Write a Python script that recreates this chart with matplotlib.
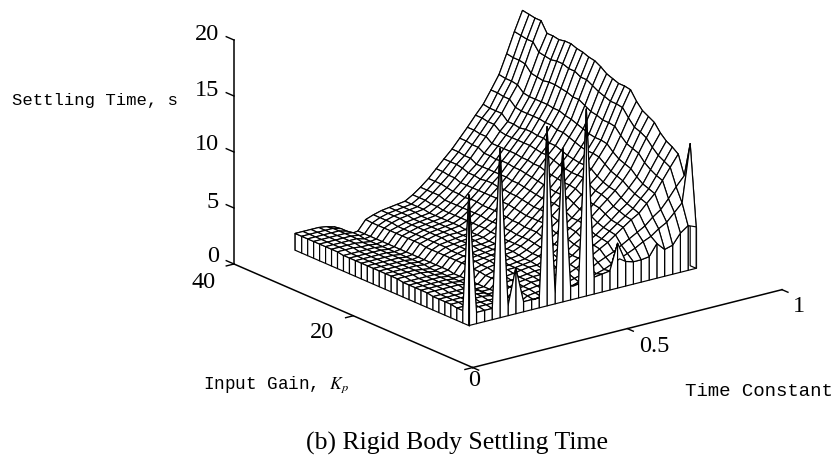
import matplotlib
matplotlib.use('Agg')
import matplotlib.pyplot as plt
import numpy as np
from mpl_toolkits.mplot3d import proj3d

W, H = 838, 458

# grid of the surface: time constant across, input gain along
time_const = [0.19, 0.215, 0.241, 0.266, 0.291, 0.317, 0.342, 0.367, 0.393, 0.418,
              0.443, 0.469, 0.494, 0.519, 0.545, 0.57, 0.595, 0.621, 0.646, 0.671,
              0.697, 0.722, 0.747, 0.773, 0.798, 0.823, 0.849, 0.874, 0.899, 0.925]
input_gain = [10.5, 11.5, 12.5, 13.5, 14.5, 15.5, 16.5, 17.5, 18.5, 19.5,
              20.5, 21.5, 22.5, 23.5, 24.5, 25.5, 26.5, 27.5, 28.5, 29.5,
              30.5, 31.5, 32.5, 33.5, 34.5, 35.5, 36.5, 37.5, 38.5, 39.6]

# settling time, one row per input gain (first row is the front edge)
settling = [
    [11.7, 1.0, 1.0, 1.0, 15.1, 0.9, 4.1, 0.9, 0.9, 0.9, 16.0, 1.0, 13.7, 1.2, 1.4, 16.7, 1.5, 1.6, 1.7, 4.0, 2.2, 2.0, 2.0, 2.1, 3.1, 2.4, 2.6, 3.5, 4.0, 3.7],
    [1.1, 1.1, 1.1, 1.1, 1.1, 1.0, 0.4, 0.2, 0.2, 0.5, 0.6, 0.6, 0.7, 0.7, 0.8, 0.9, 1.1, 1.4, 1.6, 1.9, 2.2, 2.5, 2.8, 3.2, 3.5, 4.0, 4.4, 5.1, 5.8, 10.9],
    [1.1, 1.1, 1.1, 1.1, 1.1, 1.1, 0.4, 0.2, 0.2, 0.6, 0.7, 0.8, 0.8, 0.9, 0.9, 1.1, 1.3, 1.6, 2.0, 2.3, 2.6, 3.0, 3.4, 3.8, 4.2, 4.8, 5.3, 6.1, 7.0, 7.8],
    [1.2, 1.2, 1.2, 1.2, 1.2, 1.1, 0.4, 0.2, 0.2, 0.7, 0.8, 0.9, 1.0, 1.1, 1.1, 1.3, 1.6, 2.0, 2.4, 2.8, 3.2, 3.7, 4.2, 4.7, 5.1, 5.8, 6.5, 7.5, 8.5, 9.5],
    [1.2, 1.2, 1.2, 1.2, 1.2, 1.1, 0.4, 0.2, 0.2, 0.7, 0.8, 1.0, 1.0, 1.1, 1.1, 1.4, 1.7, 2.1, 2.5, 2.9, 3.3, 3.8, 4.3, 4.8, 5.3, 6.0, 6.7, 7.7, 8.8, 9.9],
    [1.2, 1.2, 1.2, 1.2, 1.2, 1.1, 0.4, 0.2, 0.2, 0.7, 0.9, 1.0, 1.1, 1.1, 1.2, 1.4, 1.8, 2.1, 2.6, 3.0, 3.4, 3.9, 4.4, 5.0, 5.5, 6.2, 6.9, 8.0, 9.1, 10.2],
    [1.2, 1.2, 1.2, 1.2, 1.2, 1.2, 0.4, 0.2, 0.2, 0.8, 0.9, 1.0, 1.1, 1.2, 1.2, 1.5, 1.8, 2.2, 2.7, 3.1, 3.6, 4.1, 4.7, 5.2, 5.8, 6.5, 7.3, 8.4, 9.6, 10.7],
    [1.3, 1.3, 1.3, 1.3, 1.3, 1.2, 0.4, 0.2, 0.2, 0.8, 1.0, 1.1, 1.2, 1.3, 1.3, 1.6, 2.0, 2.4, 2.9, 3.4, 3.9, 4.4, 5.0, 5.6, 6.2, 6.9, 7.8, 9.0, 10.2, 11.4],
    [1.3, 1.3, 1.3, 1.3, 1.3, 1.2, 0.4, 0.2, 0.2, 0.8, 1.0, 1.2, 1.2, 1.3, 1.4, 1.7, 2.0, 2.4, 3.0, 3.5, 4.0, 4.5, 5.1, 5.8, 6.3, 7.1, 8.0, 9.2, 10.5, 11.7],
    [1.3, 1.3, 1.3, 1.3, 1.3, 1.2, 0.4, 0.2, 0.2, 0.8, 1.0, 1.2, 1.2, 1.3, 1.4, 1.7, 2.1, 2.5, 3.0, 3.5, 4.0, 4.6, 5.2, 5.9, 6.5, 7.3, 8.2, 9.4, 10.7, 12.0],
    [1.3, 1.3, 1.3, 1.3, 1.3, 1.2, 0.4, 0.2, 0.2, 0.9, 1.1, 1.2, 1.3, 1.4, 1.5, 1.8, 2.2, 2.6, 3.2, 3.7, 4.3, 4.9, 5.5, 6.2, 6.8, 7.7, 8.6, 9.9, 11.3, 12.6],
    [1.3, 1.3, 1.3, 1.3, 1.3, 1.2, 0.4, 0.2, 0.2, 0.9, 1.1, 1.3, 1.4, 1.5, 1.6, 1.9, 2.3, 2.8, 3.4, 3.9, 4.5, 5.2, 5.8, 6.6, 7.2, 8.1, 9.1, 10.5, 12.0, 13.4],
    [1.4, 1.4, 1.4, 1.4, 1.3, 1.2, 0.4, 0.2, 0.2, 1.0, 1.2, 1.3, 1.4, 1.5, 1.6, 1.9, 2.3, 2.8, 3.4, 4.0, 4.6, 5.2, 5.9, 6.6, 7.3, 8.2, 9.2, 10.6, 12.1, 13.5],
    [1.4, 1.4, 1.4, 1.4, 1.3, 1.2, 0.4, 0.2, 0.2, 1.0, 1.2, 1.3, 1.4, 1.5, 1.6, 1.9, 2.3, 2.8, 3.4, 4.0, 4.6, 5.2, 5.9, 6.6, 7.3, 8.2, 9.2, 10.6, 12.1, 13.5],
    [1.4, 1.4, 1.4, 1.4, 1.4, 1.3, 0.4, 0.2, 0.3, 1.0, 1.2, 1.3, 1.4, 1.5, 1.6, 1.9, 2.4, 2.9, 3.4, 4.0, 4.6, 5.3, 6.0, 6.7, 7.4, 8.3, 9.3, 10.8, 12.3, 13.7],
    [1.4, 1.4, 1.4, 1.4, 1.4, 1.3, 0.4, 0.2, 0.3, 1.0, 1.2, 1.4, 1.5, 1.5, 1.6, 2.0, 2.4, 2.9, 3.5, 4.1, 4.7, 5.4, 6.1, 6.8, 7.5, 8.5, 9.5, 10.9, 12.5, 13.9],
    [1.4, 1.4, 1.4, 1.4, 1.4, 1.3, 0.5, 0.2, 0.3, 1.0, 1.2, 1.4, 1.5, 1.6, 1.7, 2.0, 2.5, 3.0, 3.6, 4.2, 4.8, 5.5, 6.2, 7.0, 7.7, 8.7, 9.7, 11.2, 12.8, 14.3],
    [1.4, 1.4, 1.4, 1.4, 1.4, 1.3, 0.5, 0.2, 0.3, 1.0, 1.3, 1.4, 1.5, 1.6, 1.7, 2.1, 2.5, 3.0, 3.7, 4.3, 4.9, 5.6, 6.4, 7.2, 7.9, 8.9, 9.9, 11.5, 13.1, 14.6],
    [1.4, 1.4, 1.4, 1.4, 1.4, 1.3, 0.5, 0.2, 0.3, 1.0, 1.3, 1.4, 1.5, 1.6, 1.7, 2.1, 2.5, 3.1, 3.7, 4.3, 5.0, 5.7, 6.4, 7.2, 7.9, 8.9, 10.0, 11.5, 13.1, 14.7],
    [1.4, 1.4, 1.4, 1.4, 1.4, 1.3, 0.5, 0.2, 0.3, 1.0, 1.3, 1.5, 1.6, 1.6, 1.7, 2.1, 2.6, 3.1, 3.8, 4.4, 5.0, 5.8, 6.5, 7.3, 8.1, 9.1, 10.2, 11.7, 13.4, 14.9],
    [1.4, 1.4, 1.4, 1.4, 1.4, 1.3, 0.5, 0.2, 0.3, 1.1, 1.3, 1.5, 1.6, 1.7, 1.8, 2.1, 2.6, 3.1, 3.8, 4.4, 5.1, 5.8, 6.5, 7.4, 8.1, 9.1, 10.2, 11.8, 13.4, 15.0],
    [1.4, 1.4, 1.4, 1.4, 1.4, 1.3, 0.5, 0.2, 0.3, 1.1, 1.3, 1.5, 1.6, 1.7, 1.8, 2.1, 2.6, 3.2, 3.8, 4.5, 5.1, 5.9, 6.6, 7.4, 8.2, 9.2, 10.3, 11.9, 13.6, 15.2],
    [1.5, 1.5, 1.5, 1.4, 1.4, 1.3, 0.5, 0.2, 0.3, 1.1, 1.3, 1.5, 1.6, 1.7, 1.8, 2.1, 2.6, 3.2, 3.8, 4.5, 5.1, 5.9, 6.6, 7.4, 8.2, 9.2, 10.3, 11.9, 13.6, 15.2],
    [1.5, 1.5, 1.5, 1.5, 1.4, 1.3, 0.5, 0.2, 0.3, 1.1, 1.3, 1.5, 1.6, 1.7, 1.8, 2.1, 2.6, 3.1, 3.8, 4.4, 5.1, 5.8, 6.6, 7.4, 8.1, 9.2, 10.3, 11.8, 13.5, 15.1],
    [1.5, 1.5, 1.5, 1.5, 1.5, 1.3, 0.5, 0.2, 0.3, 1.1, 1.3, 1.5, 1.6, 1.7, 1.8, 2.1, 2.6, 3.2, 3.8, 4.5, 5.1, 5.9, 6.6, 7.4, 8.2, 9.2, 10.3, 11.9, 13.6, 15.2],
    [1.5, 1.5, 1.5, 1.5, 1.5, 1.4, 0.5, 0.2, 0.3, 1.1, 1.3, 1.5, 1.6, 1.7, 1.8, 2.2, 2.6, 3.2, 3.8, 4.5, 5.1, 5.9, 6.6, 7.5, 8.2, 9.3, 10.4, 12.0, 13.7, 15.2],
    [1.5, 1.5, 1.5, 1.5, 1.5, 1.4, 0.5, 0.2, 0.3, 1.1, 1.4, 1.6, 1.7, 1.8, 1.9, 2.2, 2.8, 3.3, 4.0, 4.7, 5.4, 6.2, 7.0, 7.9, 8.7, 9.8, 10.9, 12.6, 14.4, 16.1],
    [1.5, 1.5, 1.5, 1.5, 1.5, 1.3, 0.5, 0.2, 0.3, 1.1, 1.4, 1.6, 1.7, 1.8, 1.9, 2.3, 2.8, 3.4, 4.0, 4.8, 5.4, 6.2, 7.0, 7.9, 8.7, 9.8, 11.0, 12.7, 14.4, 16.1],
    [1.5, 1.5, 1.5, 1.5, 1.5, 1.3, 0.5, 0.2, 0.3, 1.1, 1.4, 1.6, 1.7, 1.8, 1.9, 2.3, 2.8, 3.4, 4.1, 4.8, 5.5, 6.3, 7.1, 8.0, 8.7, 9.9, 11.0, 12.7, 14.5, 16.2],
    [1.5, 1.5, 1.5, 1.5, 1.4, 1.2, 0.5, 0.2, 0.3, 1.15, 1.4, 1.6, 1.7, 1.8, 1.9, 2.3, 2.8, 3.4, 4.1, 4.8, 5.5, 6.3, 7.1, 8.0, 8.8, 9.9, 11.1, 12.8, 14.6, 16.3],
]

z_ticks = [0, 5, 10, 15, 20]
kp_ticks = [0, 20, 40]
t_ticks = [0, 0.5, 1]


def to_screen(ax, x, y, z):
    px, py, _ = proj3d.proj_transform(x, y, z, ax.get_proj())
    return ax.transData.transform((px, py))


def fit_axes(ax, fig):
    # move the axes so the box corners land where the original has them
    fig.canvas.draw()
    left = to_screen(ax, 0, 40, 0)
    right = to_screen(ax, 1, 0, 0)
    scale = (782 - 234) / (right[0] - left[0])
    pos = ax.get_position(original=True)
    cx = (pos.x0 + pos.x1) / 2 * W
    cy = (pos.y0 + pos.y1) / 2 * H
    size = pos.width * W * scale
    nx = 234 + (cx - left[0]) * scale
    ny = (H - 264) + (cy - left[1]) * scale
    ax.set_position([(nx - size / 2) / W, (ny - size / 2) / H, size / W, size / H])


def surface_plot():
    plt.rcParams['font.family'] = ['Liberation Serif', 'DejaVu Serif']
    plt.rcParams['mathtext.fontset'] = 'stix'

    fig = plt.figure(figsize=(W / 100, H / 100), dpi=100)
    ax = fig.add_axes([0.1, 0.0, 0.8, 0.8 * W / H], projection='3d')
    ax.set_proj_type('ortho')
    ax.view_init(elev=19.3, azim=-127.3)
    ax.set_box_aspect((390, 395, 238))
    ax.set_xlim(0, 1)
    ax.set_ylim(0, 40)
    ax.set_zlim(0, 20)
    ax.set_axis_off()
    ax.computed_zorder = False

    # skirt round the surface, down to zero
    t = np.array(time_const)
    k = np.array(input_gain)
    xs = np.r_[t[0], t, t[-1]]
    ys = np.r_[k[0], k, k[-1]]
    X, Y = np.meshgrid(xs, ys)
    Z = np.pad(np.array(settling), 1)
    ax.plot_surface(X, Y, Z, rstride=1, cstride=1, color='white', edgecolor='black',
                    linewidth=0.85, shade=False, antialiased=True, zorder=3)

    # the three axis lines
    ax.plot([0, 0], [40, 40], [0, 20], color='black', lw=1.1, zorder=2)
    ax.plot([0, 0], [0, 40], [0, 0], color='black', lw=1.1, zorder=2)
    ax.plot([0, 1], [0, 0], [0, 0], color='black', lw=1.1, zorder=2)
    for v in z_ticks:
        ax.plot([0, 0], [40, 41.3], [v, v], color='black', lw=1.0, zorder=2)
    for v in kp_ticks:
        ax.plot([0, -0.025], [v, v], [0, 0], color='black', lw=1.0, zorder=2)
    for v in t_ticks:
        ax.plot([v, v], [0, -1], [0, 0], color='black', lw=1.0, zorder=2)

    fit_axes(ax, fig)

    def label(x, y, s, **kw):
        fig.text(x / W, 1 - y / H, s, va='center', **kw)

    for v, y in zip(z_ticks, [257, 202, 145, 90, 35]):
        label(219, y, str(v), ha='right', fontsize=17.5)
    label(204, 282, '40', ha='center', fontsize=17.5)
    label(322, 333, '20', ha='center', fontsize=17.5)
    label(474, 381, '0', ha='center', fontsize=17.5)
    label(654, 347, '0.5', ha='center', fontsize=17.5)
    label(799, 307, '1', ha='center', fontsize=17.5)

    mono = ['Liberation Mono', 'DejaVu Sans Mono']
    label(12, 100, 'Settling Time, s', ha='left', fontsize=12.4, family=mono)
    label(203, 385, 'Input Gain, $K_p$', ha='left', fontsize=12.7, family=mono)
    label(685, 392, 'Time Constant', ha='left', fontsize=13.7, family=mono)
    label(457, 443, '(b) Rigid Body Settling Time', ha='center', fontsize=18.5)

    fig.savefig('out.png', dpi=100)


if __name__ == "__main__":
    surface_plot()
